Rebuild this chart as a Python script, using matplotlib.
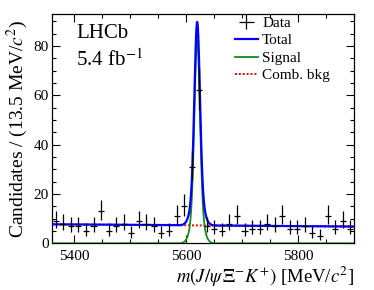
import numpy as np
import matplotlib
matplotlib.use("Agg")
import matplotlib.pyplot as plt
from matplotlib.ticker import MultipleLocator

plt.rcParams['font.family'] = ['Liberation Serif', 'DejaVu Serif']
plt.rcParams['mathtext.fontset'] = 'stix'

# binning: 40 bins of 13.5 MeV
m_lo, m_hi, bin_w = 5360.0, 5900.0, 13.5
counts = [9, 8, 7, 7, 5, 7, 13, 5, 7, 8,
          4, 9, 8, 7, 4, 5, 11, 15, 31, 62,
          7, 6, 5, 8, 11, 5, 6, 6, 8, 7,
          11, 6, 6, 7, 4, 3, 11, 6, 9, 6]

# fit result (per bin)
sig_mean = 5619.6
sig_peak = 82.5
sig_sigma1, sig_sigma2, sig_frac1 = 4.8, 9.0, 0.8
bkg_left, bkg_right = 7.7, 6.8

n = np.array(counts, dtype=float)
centers = m_lo + bin_w * (np.arange(len(n)) + 0.5)

# Gehrels approx for Poisson 68% interval
up = (n + 1) * (1 - 1 / (9 * (n + 1)) + 1 / (3 * np.sqrt(n + 1))) ** 3 - n
lo = np.where(n > 0, n - n * (1 - 1 / (9 * np.maximum(n, 1)) - 1 / (3 * np.sqrt(np.maximum(n, 1)))) ** 3, 0)

x = np.linspace(m_lo, m_hi, 2000)
d = x - sig_mean
signal = sig_peak * (sig_frac1 * np.exp(-0.5 * (d / sig_sigma1) ** 2)
                     + (1 - sig_frac1) * np.exp(-0.5 * (d / sig_sigma2) ** 2))
bkg = bkg_left + (bkg_right - bkg_left) * (x - m_lo) / (m_hi - m_lo)
total = signal + bkg

fig = plt.figure(figsize=(3.74, 2.90), dpi=100)
ax = fig.add_axes([0.139, 0.161, 0.8075, 0.791])

ax.plot(x, bkg, color='red', ls=(0, (1, 1)), lw=1.4, label='Comb. bkg', zorder=2)
ax.plot(x, signal, color='#1a8a1a', lw=1.3, label='Signal', zorder=3)
ax.plot(x, total, color='blue', lw=1.6, label='Total', zorder=4)
ax.errorbar(centers, n, yerr=[lo, up], xerr=bin_w * 0.4, fmt='none',
            ecolor='black', elinewidth=0.9, capsize=0, label='Data', zorder=5)

ax.set_xlim(m_lo, m_hi)
ax.set_ylim(0, 93)
ax.xaxis.set_major_locator(MultipleLocator(200))
ax.xaxis.set_minor_locator(MultipleLocator(50))
ax.yaxis.set_major_locator(MultipleLocator(20))
ax.yaxis.set_minor_locator(MultipleLocator(5))
ax.tick_params(which='both', direction='in', top=True, right=True, labelsize=11)
ax.tick_params(which='major', length=5.5, width=0.8)
ax.tick_params(which='minor', length=3, width=0.8)
ax.tick_params(axis='x', pad=5)
ax.tick_params(axis='y', pad=2.5)
for s in ax.spines.values():
    s.set_linewidth(0.9)

ax.set_ylabel('Candidates / (13.5 MeV/$c^2$)', fontsize=14, labelpad=2)
ax.set_xlabel(r'$m(J/\psi\,\mathit{\Xi}^{-}K^{+})$ [MeV/$c^2$]', fontsize=13.5,
              loc='right', labelpad=1)

ax.text(0.08, 0.955, 'LHCb', transform=ax.transAxes, fontsize=15,
        ha='left', va='top')
ax.text(0.08, 0.845, '5.4 fb$^{-1}$', transform=ax.transAxes, fontsize=15,
        ha='left', va='top')

h, l = ax.get_legend_handles_labels()
order = [3, 2, 1, 0]
ax.legend([h[i] for i in order], [l[i] for i in order], loc='upper left',
          bbox_to_anchor=(0.605, 0.99), frameon=False, fontsize=11,
          handlelength=1.5, handletextpad=0.3, labelspacing=0.25,
          borderpad=0, borderaxespad=0)

fig.savefig('out.png', dpi=100)
